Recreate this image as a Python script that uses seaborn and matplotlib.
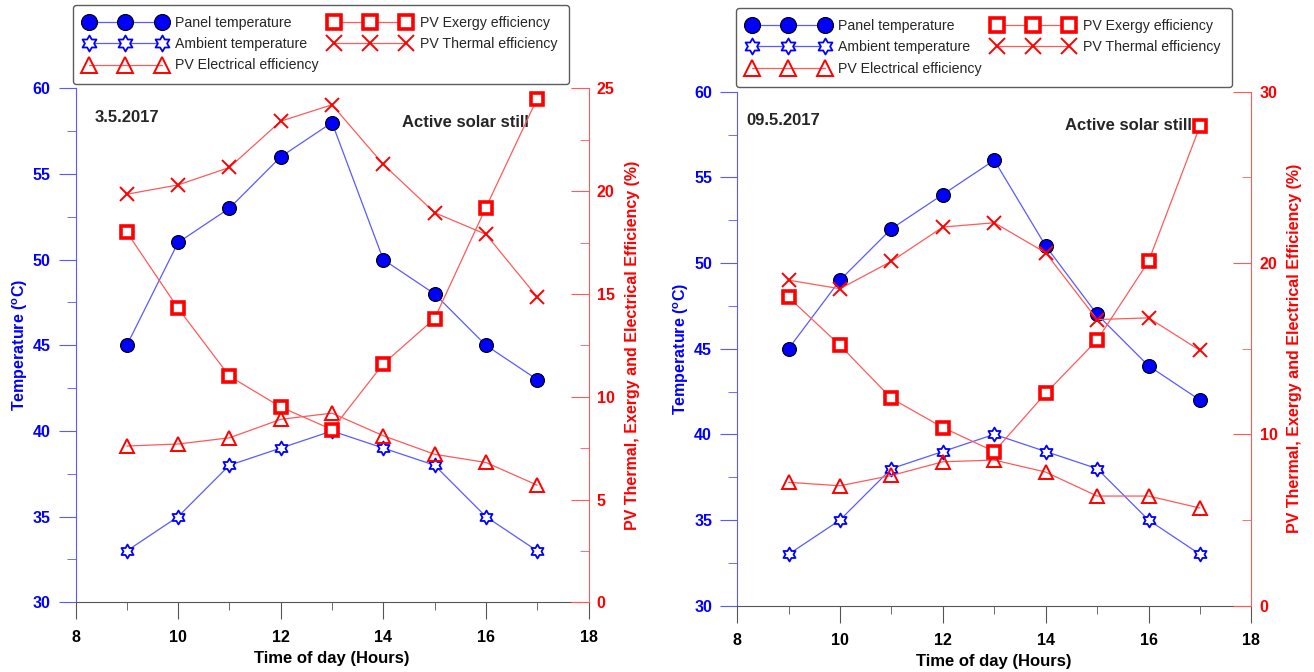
import numpy as np
import matplotlib
matplotlib.use("Agg")
import matplotlib.pyplot as plt
import seaborn as sns
from matplotlib.path import Path
from matplotlib.ticker import MultipleLocator

# ---------------- data ----------------
hours = [9, 10, 11, 12, 13, 14, 15, 16, 17]

# Panel 1 : 3.5.2017
p1_panel = [45, 51, 53, 56, 58, 50, 48, 45, 43]
p1_ambient = [33, 35, 38, 39, 40, 39, 38, 35, 33]
p1_electrical = [7.6, 7.7, 8.0, 8.9, 9.2, 8.1, 7.2, 6.8, 5.7]
p1_exergy = [18.0, 14.3, 11.0, 9.5, 8.4, 11.6, 13.8, 19.2, 24.5]
p1_thermal = [19.85, 20.3, 21.15, 23.4, 24.2, 21.3, 18.95, 17.9, 14.85]

# Panel 2 : 09.5.2017
p2_panel = [45, 49, 52, 54, 56, 51, 47, 44, 42]
p2_ambient = [33, 35, 38, 39, 40, 39, 38, 35, 33]
p2_electrical = [7.2, 7.0, 7.6, 8.4, 8.5, 7.8, 6.4, 6.4, 5.7]
p2_exergy = [18.0, 15.2, 12.1, 10.4, 9.0, 12.4, 15.5, 20.1, 28.0]
p2_thermal = [19.0, 18.5, 20.1, 22.1, 22.35, 20.6, 16.7, 16.8, 14.9]

labels = ["Panel temperature", "Ambient temperature", "PV Electrical efficiency",
          "PV Exergy efficiency", "PV Thermal efficiency"]

# ---------------- style ----------------
sns.set_style("ticks")
plt.rcParams["font.family"] = ["Liberation Sans", "DejaVu Sans"]
plt.rcParams["mathtext.fontset"] = "custom"
plt.rcParams["mathtext.bf"] = "Liberation Sans:bold"
plt.rcParams["mathtext.rm"] = "Liberation Sans"

BLUE = "#0000ff"
BLUE_L = "#5a5aff"
RED = "#ff0000"
RED_L = "#ff5a5a"

# hexagram marker (Star of David outline)
ang = np.deg2rad(90 + 30 * np.arange(12))
rad = np.where(np.arange(12) % 2 == 0, 1.0, 0.577)
verts = np.column_stack([rad * np.cos(ang), rad * np.sin(ang)])
verts = np.vstack([verts, verts[:1]])
codes = [Path.MOVETO] + [Path.LINETO] * 11 + [Path.CLOSEPOLY]
HEX = Path(verts, codes)

fig = plt.figure(figsize=(13.14, 6.72), dpi=100)


def panel(rect, panel_t, amb_t, elec, exer, therm, r_max, r_major, r_minor,
          date_txt, date_xy, still_xy, leg_rect):
    ax = fig.add_axes(rect)
    ax2 = ax.twinx()

    sns.lineplot(x=hours, y=panel_t, ax=ax, color=BLUE_L, lw=0.9, marker="o",
                 markersize=10, markerfacecolor=BLUE, markeredgecolor="black",
                 markeredgewidth=0.8, legend=False)
    h1 = ax.lines[-1]
    sns.lineplot(x=hours, y=amb_t, ax=ax, color=BLUE_L, lw=0.9, marker=HEX,
                 markersize=10, markerfacecolor="white", markeredgecolor=BLUE,
                 markeredgewidth=1.3, legend=False)
    h2 = ax.lines[-1]
    sns.lineplot(x=hours, y=elec, ax=ax2, color=RED_L, lw=0.9, marker="^",
                 markersize=10, markerfacecolor="none", markeredgecolor=RED,
                 markeredgewidth=1.4, legend=False)
    h3 = ax2.lines[-1]
    sns.lineplot(x=hours, y=exer, ax=ax2, color=RED_L, lw=0.9, marker="s",
                 markersize=9, markerfacecolor="white", markeredgecolor=RED,
                 markeredgewidth=2.6, legend=False)
    h4 = ax2.lines[-1]
    sns.lineplot(x=hours, y=therm, ax=ax2, color=RED_L, lw=0.9, marker="x",
                 markersize=10, markerfacecolor=RED, markeredgecolor=RED,
                 markeredgewidth=1.4, legend=False)
    h5 = ax2.lines[-1]
    for h, lab in zip([h1, h2, h3, h4, h5], labels):
        h.set_label(lab)

    ax.set_xlim(8, 18)
    ax.set_ylim(30, 60)
    ax2.set_ylim(0, r_max)
    ax.xaxis.set_major_locator(MultipleLocator(2))
    ax.xaxis.set_minor_locator(MultipleLocator(1))
    ax.yaxis.set_major_locator(MultipleLocator(5))
    ax.yaxis.set_minor_locator(MultipleLocator(2.5))
    ax2.yaxis.set_major_locator(MultipleLocator(r_major))
    ax2.yaxis.set_minor_locator(MultipleLocator(r_minor))

    for s in ["top", "right"]:
        ax.spines[s].set_visible(False)
    for s in ["top", "left", "bottom"]:
        ax2.spines[s].set_visible(False)
    ax.spines["left"].set_color(BLUE_L)
    ax.spines["bottom"].set_color("#555555")
    ax2.spines["right"].set_color(RED_L)

    ax.tick_params(axis="x", which="both", direction="out", colors="#555555",
                   labelcolor="black", labelsize=11.5, pad=8)
    ax.tick_params(axis="x", which="major", length=12)
    ax.tick_params(axis="x", which="minor", length=6)
    ax.tick_params(axis="y", which="both", direction="out", colors=BLUE_L,
                   labelcolor=BLUE, labelsize=11.5, pad=6)
    ax.tick_params(axis="y", which="major", length=12)
    ax.tick_params(axis="y", which="minor", length=6.5)
    ax2.tick_params(axis="y", which="both", direction="in", colors=RED_L,
                    labelcolor=RED, labelsize=11.5, pad=6)
    ax2.tick_params(axis="y", which="major", length=13)
    ax2.tick_params(axis="y", which="minor", length=6.5)
    for t in ax.get_xticklabels() + ax.get_yticklabels() + ax2.get_yticklabels():
        t.set_fontweight("bold")

    ax.set_xlabel("Time of day (Hours)", fontsize=12, fontweight="bold",
                  color="black", labelpad=4)
    ax.set_ylabel(r"Temperature ($\mathbf{^{o}}$C)", fontsize=11.5,
                  fontweight="bold", color=BLUE, labelpad=2)
    ax2.set_ylabel("PV Thermal, Exergy and Electrical Efficiency (%)",
                   fontsize=11.5, fontweight="bold", color=RED, labelpad=7)

    ax.text(date_xy[0], date_xy[1], date_txt, transform=ax.transAxes,
            fontsize=12, fontweight="bold", va="center", ha="left")
    ax.text(still_xy[0], still_xy[1], "Active solar still", transform=ax.transAxes,
            fontsize=12, fontweight="bold", va="center", ha="left")

    leg = fig.legend(handles=[h1, h2, h3, h4, h5], loc="upper left",
                     bbox_to_anchor=leg_rect, ncol=2, numpoints=3,
                     handlelength=5.75, handletextpad=0.65, columnspacing=0.75,
                     labelspacing=0.5, fontsize=10.2, frameon=True,
                     fancybox=True, borderpad=0.8, borderaxespad=0.0,
                     markerscale=1.15)
    leg.get_frame().set_edgecolor("#333333")
    leg.get_frame().set_linewidth(1.0)
    return ax, ax2


W, H = 1314, 672
panel([75.5 / W, 1 - 602.3 / H, 513 / W, 514 / H],
      p1_panel, p1_ambient, p1_electrical, p1_exergy, p1_thermal,
      25, 5, 2.5, "3.5.2017", (0.037, 0.943), (0.636, 0.933),
      (73 / W, 1 - 5 / H))
panel([737.1 / W, 1 - 605.7 / H, 514.3 / W, 514 / H],
      p2_panel, p2_ambient, p2_electrical, p2_exergy, p2_thermal,
      30, 10, 5, "09.5.2017", (0.019, 0.944), (0.6375, 0.934),
      (736 / W, 1 - 8 / H))

fig.savefig("out.png", dpi=100)
